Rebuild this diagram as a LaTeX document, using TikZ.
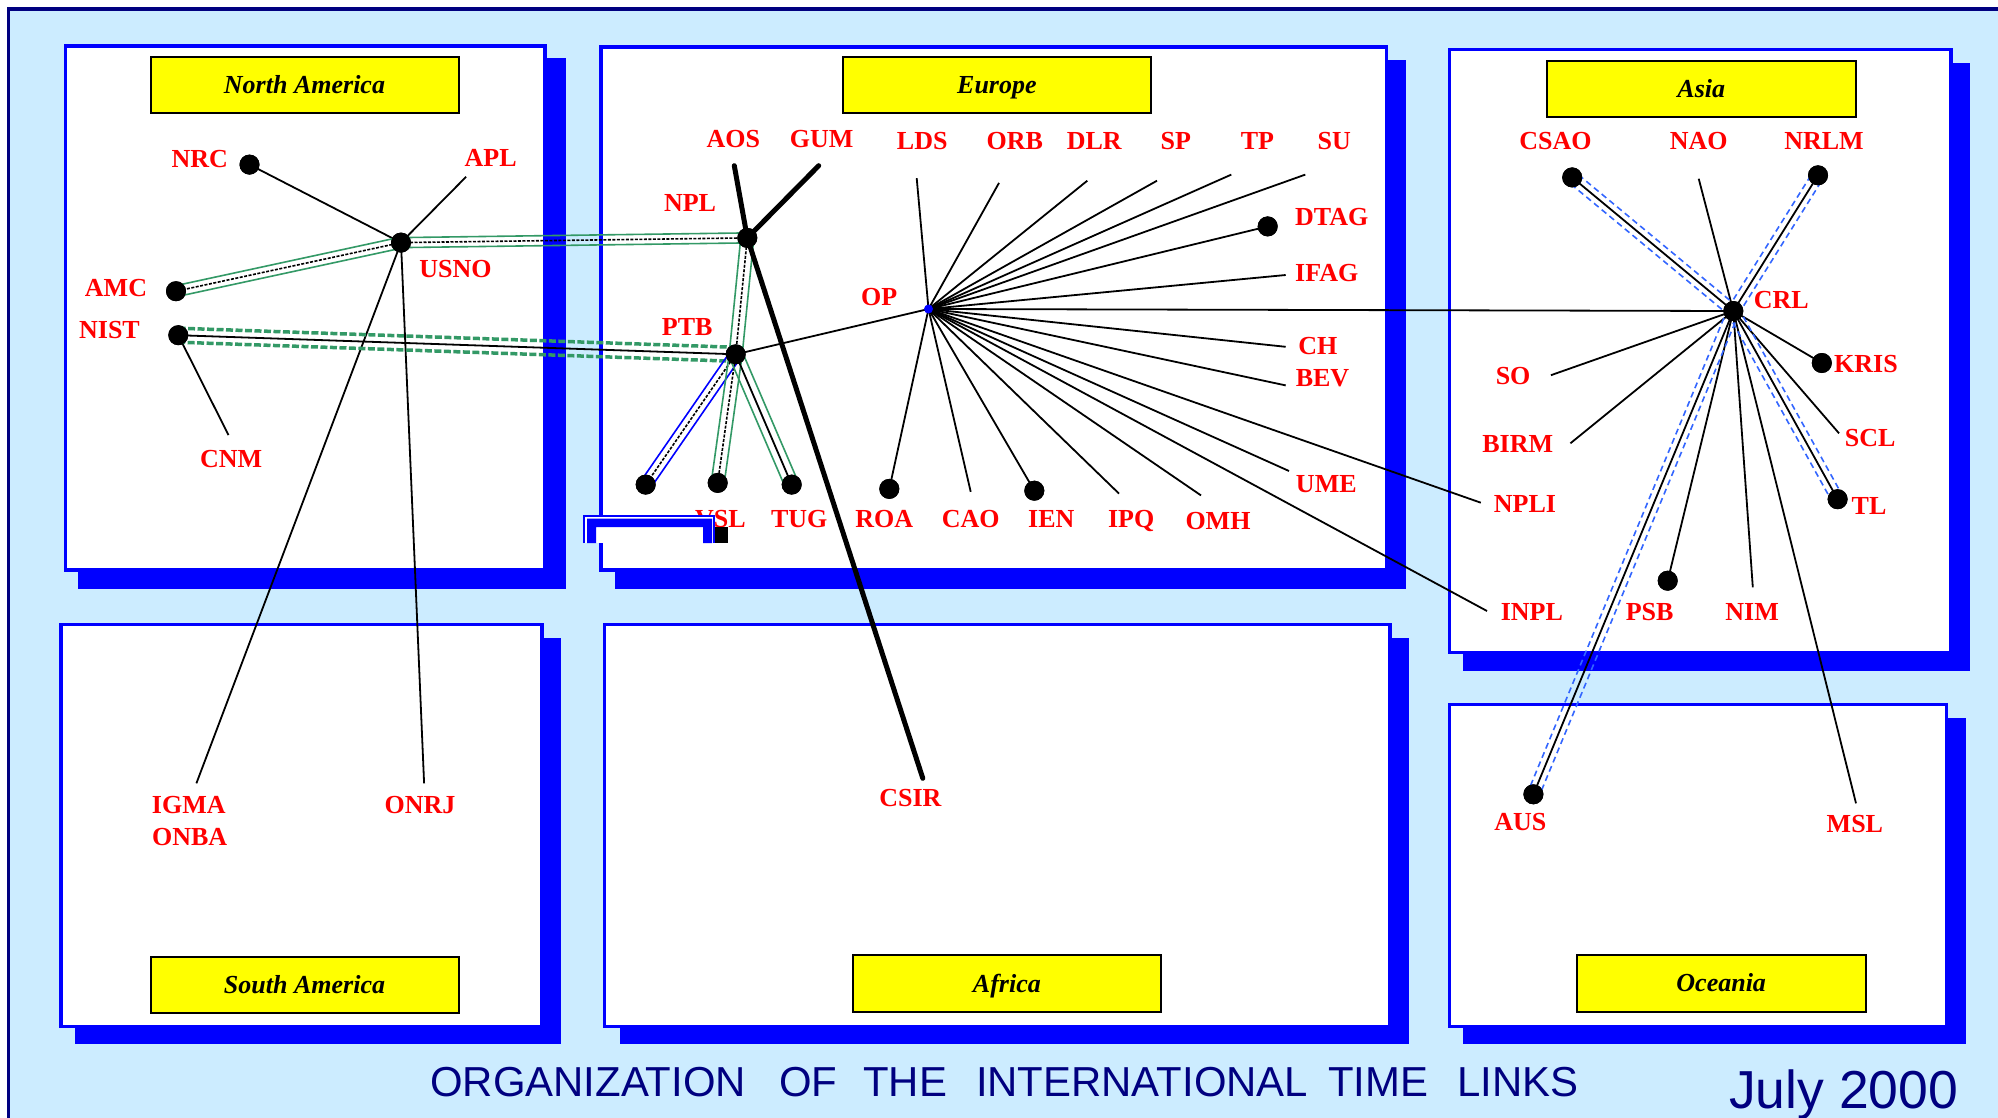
\documentclass[tikz,border=0pt]{standalone}
\usepackage{fontspec}
\setmainfont{Liberation Serif}
\newfontfamily\arialf{Liberation Sans}
\usetikzlibrary{calc}
\definecolor{bgblue}{RGB}{204,236,255}
\definecolor{navy}{RGB}{0,0,128}
\definecolor{boxblue}{RGB}{0,0,255}
\definecolor{lgreen}{RGB}{51,153,102}
\definecolor{dblue}{RGB}{51,102,255}
\definecolor{lred}{RGB}{255,0,0}
\definecolor{tyellow}{RGB}{255,255,0}
\newcommand{\lblfont}{\fontsize{26}{26}\selectfont\bfseries}
\newcommand{\ttlfont}{\fontsize{26}{26}\selectfont\bfseries\itshape}
\newcommand{\twolines}[4]{%
  \draw[#4] ($(#1)!#3!90:(#2)$) -- ($(#2)!#3!-90:(#1)$);
  \draw[#4] ($(#1)!#3!-90:(#2)$) -- ($(#2)!#3!90:(#1)$);}
\tikzset{
  regbox/.style={draw=boxblue, line width=3.5pt, fill=white},
  shd/.style={fill=boxblue},
  ttl/.style={draw=black, line width=2pt, fill=tyellow, font=\ttlfont, inner sep=0pt, text height=17pt, text depth=0pt, minimum height=56.5pt},
  lbl/.style={text=lred, font=\lblfont, inner sep=0pt, text height=17pt, text depth=0pt},
  blob/.style={circle, fill=black, inner sep=0pt, minimum size=20pt},
  opdot/.style={circle, fill=boxblue, inner sep=0pt, minimum size=9pt},
  tline/.style={black, line width=1.8pt},
  bline/.style={black, line width=5pt, line cap=round},
  grn/.style={lgreen, line width=1.6pt},
  grndash/.style={lgreen, line width=3.5pt, dash pattern=on 7pt off 2.5pt},
  blu/.style={boxblue, line width=1.6pt},
  bludash/.style={dblue, line width=1.6pt, dash pattern=on 6pt off 4pt},
  ctrdash/.style={black, line width=1.6pt, dash pattern=on 3pt off 1.5pt},
  ctr/.style={black, line width=1.8pt},
}
\begin{document}
\begin{tikzpicture}[x=1pt,y=-1pt]
\useasboundingbox (0,0) rectangle (1998,1117);
\clip (0,0) rectangle (1998,1117);
\fill[white] (0,0) rectangle (1998,1117);
\draw[navy, line width=3.5pt, fill=bgblue] (8.5,9) rectangle (2100,1200);

% regions: shadows then boxes
\fill[shd] (78,58) rectangle (566,589);
\draw[regbox] (65.5,46) rectangle (545,570);
\fill[shd] (615,60) rectangle (1406,589);
\draw[regbox] (601,47) rectangle (1386.5,570);
\fill[shd] (1463,62.5) rectangle (1970,670.5);
\draw[regbox] (1449.3,49.5) rectangle (1951,652.5);
\fill[shd] (75,638.3) rectangle (561,1044.3);
\draw[regbox] (61,624.7) rectangle (542,1026.7);
\fill[shd] (620,638.3) rectangle (1409,1044.3);
\draw[regbox] (604.6,624.7) rectangle (1390,1026.7);
\fill[shd] (1463,718.3) rectangle (1966,1044.3);
\draw[regbox] (1449.4,704.7) rectangle (1946.5,1026.7);

% titles
\node[ttl, minimum width=308pt] (tna) at (304.5,85) {North America};
\node[ttl, minimum width=308pt] (teu) at (996.9,84.9) {Europe};
\node[ttl, minimum width=309pt] (tas) at (1701.3,88.8) {Asia};
\node[ttl, minimum width=308pt] (tsa) at (304.5,985.2) {South America};
\node[ttl, minimum width=308pt] (taf) at (1006.9,983.5) {Africa};
\node[ttl, minimum width=289pt] (toc) at (1721.2,983.3) {Oceania};

% dots (positions; drawn on top later)
\path
  (249.5,164.6) node[blob] (nrc) {}
  (401,242.6) node[blob] (usno) {}
  (176,291.2) node[blob] (amc) {}
  (178.3,335.2) node[blob] (nist) {}
  (747.3,237.9) node[blob] (npl) {}
  (735.7,354.3) node[blob] (ptb) {}
  (645.7,484.6) node[blob] (dA) {}
  (717.7,482.9) node[blob] (vsl) {}
  (791.7,484.6) node[blob] (tug) {}
  (889.3,488.9) node[blob] (roa) {}
  (1034.3,490.7) node[blob] (ien) {}
  (1267.7,226.4) node[blob] (dtag) {}
  (1572.2,177.4) node[blob] (csao) {}
  (1818,175.3) node[blob] (nrlm) {}
  (1733.3,311) node[blob] (crl) {}
  (1821.8,363) node[blob] (kris) {}
  (1837.6,499.2) node[blob] (tl) {}
  (1667.7,580.7) node[blob] (psb) {}
  (1533.4,794.3) node[blob] (aus) {};

% free line ends
\coordinate (aplE) at (466.1,176.8);
\coordinate (cnmE) at (228.5,435.1);
\coordinate (igmaE) at (196.4,783.3);
\coordinate (onrjE) at (424.1,783.3);
\coordinate (aosE) at (734.3,165.7);
\coordinate (gumE) at (818.7,165.7);
\coordinate (csirE) at (922.8,778.3);
\coordinate (ldsE) at (916.7,178.2);
\coordinate (orbE) at (999,182.9);
\coordinate (dlrE) at (1087.3,180.7);
\coordinate (spE) at (1157,180.7);
\coordinate (tpE) at (1231.3,174.6);
\coordinate (suE) at (1305.3,174.6);
\coordinate (ifagE) at (1285.7,275);
\coordinate (chE) at (1285.7,346.8);
\coordinate (bevE) at (1285.7,385.4);
\coordinate (umeE) at (1289,471);
\coordinate (npliE) at (1480.8,502.7);
\coordinate (inplE) at (1487,611);
\coordinate (omhE) at (1201,495.4);
\coordinate (ipqE) at (1119,493.6);
\coordinate (caoE) at (970.7,491.8);
\coordinate (naoE) at (1698.7,178.7);
\coordinate (soE) at (1550.9,375.2);
\coordinate (birmE) at (1570.4,443.3);
\coordinate (sclE) at (1839,433.3);
\coordinate (nimE) at (1752.8,587.3);
\coordinate (mslE) at (1856,803.3);
\coordinate (op) at (928.5,309);

% North America links
\draw[tline] (nrc.center) -- (usno.center);
\draw[tline] (usno.center) -- (aplE);
\draw[tline] (nist.center) -- (cnmE);
\draw[tline] (usno.center) -- (igmaE);
\draw[tline] (usno.center) -- (onrjE);
\twolines{usno}{amc}{5.5pt}{grn}
\draw[ctrdash] (usno.center) -- (amc.center);
\twolines{usno}{npl}{5pt}{grn}
\draw[ctrdash] (usno.center) -- (npl.center);
\twolines{nist}{ptb}{7pt}{grndash}
\draw[ctr] (nist.center) -- (ptb.center);

% Europe links
\twolines{npl}{ptb}{6.5pt}{grn}
\draw[ctrdash] (npl.center) -- (ptb.center);
\twolines{ptb}{dA}{6pt}{blu}
\draw[ctrdash] (ptb.center) -- (dA.center);
\twolines{ptb}{vsl}{6.5pt}{grn}
\draw[ctrdash] (ptb.center) -- (vsl.center);
\twolines{ptb}{tug}{7pt}{grn}
\draw[ctr] (ptb.center) -- (tug.center);
\draw[bline] (aosE) -- (npl.center);
\draw[bline] (npl.center) -- (gumE);
\draw[bline] (npl.center) -- (csirE);
\draw[tline] (ptb.center) -- (op);
\foreach \e in {ldsE,orbE,dlrE,spE,tpE,suE,ifagE,chE,bevE,umeE,npliE,inplE,omhE,ipqE,caoE}
  \draw[tline] (op) -- (\e);
\draw[tline] (op) -- (dtag.center);
\draw[tline] (op) -- (ien.center);
\draw[tline] (op) -- (roa.center);
\draw[tline] (op) -- (crl.center);

% Asia links
\foreach \e in {naoE,soE,birmE,sclE,nimE,mslE}
  \draw[tline] (crl.center) -- (\e);
\draw[tline] (crl.center) -- (kris.center);
\draw[tline] (crl.center) -- (psb.center);
\foreach \d in {csao,nrlm,tl,aus}{
  \twolines{crl}{\d}{6pt}{bludash}
  \draw[ctr] (crl.center) -- (\d.center);
}

% dots on top
\foreach \d in {nrc,usno,amc,nist,npl,ptb,dA,vsl,tug,roa,ien,dtag,csao,nrlm,crl,kris,tl,psb,aus}
  \fill[black] (\d.center) circle (10pt);
\node[opdot] (opd) at (op) {};

% labels
\node[lbl] (Lnrc) at (199.8,159) {NRC};
\node[lbl] (Lapl) at (490.6,157.7) {APL};
\node[lbl] (Lusno) at (455.4,269.2) {USNO};
\node[lbl] (Lamc) at (116,287.6) {AMC};
\node[lbl] (Lnist) at (109.5,329.5) {NIST};
\node[lbl] (Lcnm) at (231.2,458.7) {CNM};
\node[lbl] (Ligma) at (188.8,805) {IGMA};
\node[lbl] (Lonba) at (189.7,836.7) {ONBA};
\node[lbl] (Lonrj) at (420,804.7) {ONRJ};
\node[lbl] (Lcsir) at (910.4,798.3) {CSIR};
\node[lbl] (Laos) at (733.3,139.3) {AOS};
\node[lbl] (Lgum) at (821.7,139.3) {GUM};
\node[lbl] (Llds) at (922.2,141) {LDS};
\node[lbl] (Lorb) at (1014.7,141) {ORB};
\node[lbl] (Ldlr) at (1094.2,141) {DLR};
\node[lbl] (Lsp) at (1175.8,141) {SP};
\node[lbl] (Ltp) at (1257.5,141) {TP};
\node[lbl] (Lsu) at (1334.2,141) {SU};
\node[lbl] (Lnpl) at (690,202.9) {NPL};
\node[lbl] (Lptb) at (687.2,327) {PTB};
\node[lbl] (Lop) at (879.2,297.3) {OP};
\node[lbl] (Ldtag) at (1331.7,217.1) {DTAG};
\node[lbl] (Lifag) at (1326.7,273.2) {IFAG};
\node[lbl] (Lch) at (1317.8,346.4) {CH};
\node[lbl] (Lbev) at (1322.5,377.9) {BEV};
\node[lbl] (Lume) at (1326.3,483.9) {UME};
\node[lbl] (Lvsl) at (720.4,518.9) {VSL};
\node[lbl] (Ltug) at (799.2,518.9) {TUG};
\node[lbl] (Lroa) at (884.3,518.9) {ROA};
\node[lbl] (Lcao) at (970.8,518.9) {CAO};
\node[lbl] (Lien) at (1051.3,518.6) {IEN};
\node[lbl] (Lipq) at (1131.2,518.9) {IPQ};
\node[lbl] (Lomh) at (1218,520.7) {OMH};
\node[lbl] (Lcsao) at (1555.5,141.2) {CSAO};
\node[lbl] (Lnao) at (1698.8,141.2) {NAO};
\node[lbl] (Lnrlm) at (1824,141.2) {NRLM};
\node[lbl] (Lcrl) at (1781.2,299.5) {CRL};
\node[lbl] (Lkris) at (1866,363.9) {KRIS};
\node[lbl] (Lso) at (1513.1,376.3) {SO};
\node[lbl] (Lbirm) at (1517.7,443.5) {BIRM};
\node[lbl] (Lscl) at (1870.2,437.9) {SCL};
\node[lbl] (Lnpli) at (1525,503.8) {NPLI};
\node[lbl] (Ltl) at (1869,505.9) {TL};
\node[lbl] (Linpl) at (1531.9,612.2) {INPL};
\node[lbl] (Lpsb) at (1649.6,612.2) {PSB};
\node[lbl] (Lnim) at (1752.1,612.2) {NIM};
\node[lbl] (Laus) at (1520.4,822.2) {AUS};
\node[lbl] (Lmsl) at (1854.9,824.2) {MSL};

% partially drawn object near VSL
\fill[white] (583,514.5) rectangle (715,543);
\draw[boxblue, line width=2pt] (584,543) -- (584,515.5) -- (714,515.5) -- (714,543);
\fill[boxblue] (587,543) -- (587,518.5) -- (712,518.5) -- (712,543) -- (703,543) -- (703,527) -- (596,527) -- (596,543) -- cycle;
\fill[black] (715,526.5) rectangle (728,543);

% bottom texts
\node[anchor=base west, inner sep=0pt, text=navy, font=\arialf\fontsize{41.9}{41.9}\selectfont] (caption) at (430,1096.7)
  {ORGANIZATION\hspace{33pt}OF\hspace{26pt}THE\hspace{29pt}INTERNATIONAL\hspace{20pt}TIME\hspace{29pt}LINKS};
\node[anchor=base west, inner sep=0pt, text=navy, font=\arialf\fontsize{53.5}{53.5}\selectfont] (date) at (1729,1108.3) {July 2000};
\end{tikzpicture}
\end{document}
